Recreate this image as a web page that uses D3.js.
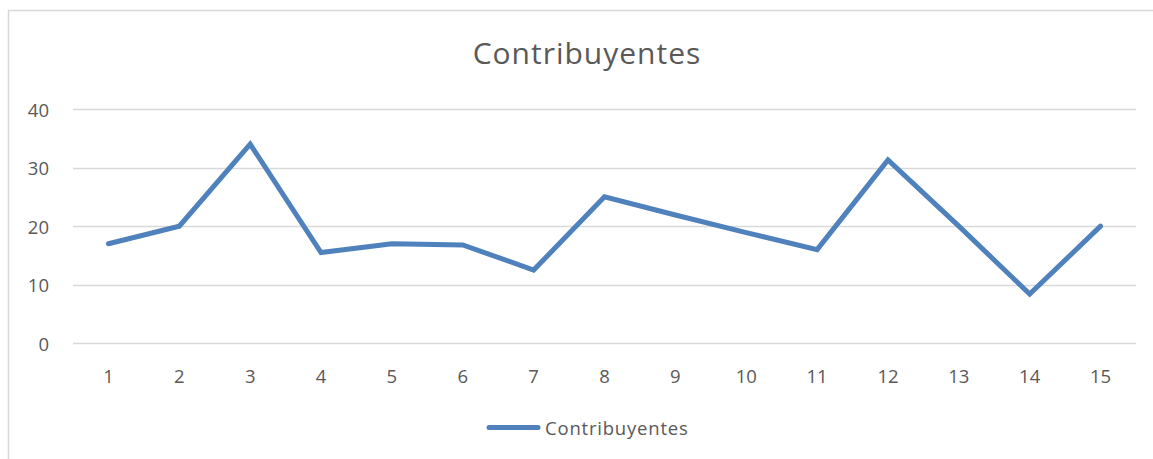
<!DOCTYPE html>
<html>
<head>
<meta charset="utf-8">
<script src="https://cdn.jsdelivr.net/npm/d3@7"></script>
<style>
	body { margin: 0; background: #fff; }
	text { font-family: "Open Sans", "Noto Sans", sans-serif; fill: #595959; }
</style>
</head>
<body>
<svg id="chart" width="1153" height="459"></svg>
<script>
var categories = ['1','2','3','4','5','6','7','8','9','10','11','12','13','14','15'];
var values = [17, 20, 34, 15.5, 17, 16.8, 12.5, 25, 21.9, 18.9, 16, 31.3, 20, 8.4, 20];
var yTicks = [0, 10, 20, 30, 40];
var seriesName = 'Contribuyentes';

var svg = d3.select('#chart');

// chart area border (right and bottom run off the picture)
svg.append('rect')
	.attr('x', 8.5).attr('y', 10.5)
	.attr('width', 1160).attr('height', 460)
	.attr('fill', 'none')
	.attr('stroke', '#d9d9d9')
	.attr('stroke-width', 1.5);

var x = d3.scaleBand()
	.domain(categories)
	.range([73, 1136]);

var y = d3.scaleLinear()
	.domain([0, 40])
	.range([343.3, 109]);

// gridlines
svg.append('g')
	.selectAll('line')
	.data(yTicks)
	.enter()
	.append('line')
		.attr('x1', 73).attr('x2', 1136)
		.attr('y1', d => Math.round(y(d)) + 0.5)
		.attr('y2', d => Math.round(y(d)) + 0.5)
		.attr('stroke', '#d9d9d9')
		.attr('stroke-width', 1.3);

// y labels
svg.append('g')
	.selectAll('text')
	.data(yTicks)
	.enter()
	.append('text')
		.attr('x', 49)
		.attr('y', d => y(d) + 7.5)
		.attr('text-anchor', 'end')
		.attr('font-size', 18.5)
		.text(d => d);

// x labels
svg.append('g')
	.selectAll('text')
	.data(categories)
	.enter()
	.append('text')
		.attr('x', d => x(d) + x.bandwidth() / 2)
		.attr('y', 383)
		.attr('text-anchor', 'middle')
		.attr('font-size', 18.5)
		.text(d => d);

var line = d3.line()
	.x((d, i) => x(categories[i]) + x.bandwidth() / 2)
	.y(d => y(d));

svg.append('path')
	.datum(values)
	.attr('d', line)
	.attr('fill', 'none')
	.attr('stroke', '#4f81bd')
	.attr('stroke-width', 5)
	.attr('stroke-linejoin', 'miter')
	.attr('stroke-linecap', 'round');

// title
svg.append('text')
	.attr('x', 587)
	.attr('y', 63.5)
	.attr('text-anchor', 'middle')
	.attr('font-size', 30)
	.attr('letter-spacing', 1)
	.text(seriesName);

// legend
var legend = svg.append('g');
legend.append('line')
	.attr('x1', 489).attr('x2', 538)
	.attr('y1', 427.5).attr('y2', 427.5)
	.attr('stroke', '#4f81bd')
	.attr('stroke-width', 5)
	.attr('stroke-linecap', 'round');
legend.append('text')
	.attr('x', 545)
	.attr('y', 435)
	.attr('font-size', 18.5)
	.attr('letter-spacing', 0.8)
	.text(seriesName);
</script>
</body>
</html>
